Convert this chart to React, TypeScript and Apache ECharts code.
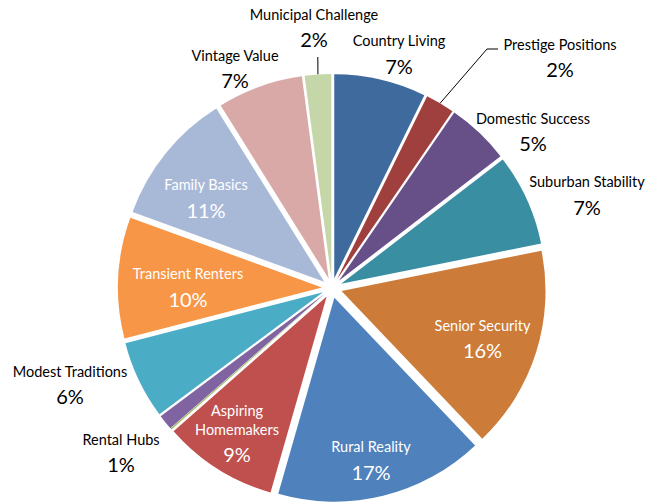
import { useEffect, useRef } from 'react';
import * as echarts from 'echarts';

// ---- data ----
const categories = [
  'Country Living',
  'Prestige Positions',
  'Domestic Success',
  'Suburban Stability',
  'Senior Security',
  'Rural Reality',
  'Aspiring Homemakers',
  '',
  'Rental Hubs',
  'Modest Traditions',
  'Transient Renters',
  'Family Basics',
  'Vintage Value',
  'Municipal Challenge',
];
const shares = [7.3, 2.3, 5.0, 7.3, 16.1, 16.6, 9.1, 0.1, 1.2, 6.2, 9.6, 10.6, 6.8, 2.1];

// ---- styles / placement ----
const colors = [
  '#3E6A9E', '#A0403E', '#674F88', '#3A8EA2', '#CC7B38', '#4F81BD', '#C0504D',
  '#9BBB59', '#8064A2', '#4BACC6', '#F79646', '#A8B9D8', '#D9A9A8', '#C5D6A8',
];
const insideLabels = [4, 5, 6, 10, 11];
const hiddenLabels = [7];
const wrapLabels = [6];
const CENTER = [332, 288];
const RADIUS = 204;
const EXPLODE = 10;
const TEXT_SHIFT_Y = -2.5;
// label block centres, relative to the pie centre
const labelOffsets: (number[] | null)[] = [
  [67, -232.5], [228, -229], [201, -155], [255, -91.5], [150.5, 52], [39, 173.5],
  [-95, 149], null, [-211, 166], [-262, 98], [-144, 0.5], [-126, -88.5], [-97, -218], [-18, -259],
];
// leader line bend points relative to the pie centre
const leaders: Record<number, number[][]> = {
  1: [[155, -239], [166, -239]],
  13: [[-14.2, -231]],
};
const FONT = 'Lato';
const NAME_SIZE = 14.5;
const PCT_SIZE = 20;

function midAngle(i: number) {
  const total = shares.reduce((a, b) => a + b, 0);
  let cum = 0;
  for (let k = 0; k < i; k++) cum += shares[k];
  return ((cum + shares[i] / 2) / total) * Math.PI * 2;
}

export default function App() {
  const ref = useRef<HTMLDivElement>(null);
  useEffect(() => {
    if (!ref.current) return;
    const chart = echarts.init(ref.current, null, { renderer: 'svg' });
    const common = {
      type: 'pie',
      center: CENTER,
      radius: RADIUS,
      startAngle: 90,
      clockwise: true,
      avoidLabelOverlap: false,
      percentPrecision: 0,
      emphasis: { disabled: true },
    };
    chart.setOption({
      animation: false,
      backgroundColor: '#ffffff',
      series: [
        {
          ...common,
          selectedMode: 'multiple',
          selectedOffset: EXPLODE,
          select: { itemStyle: { borderWidth: 0 } },
          itemStyle: { borderWidth: 0 },
          label: { show: false },
          labelLine: { show: false },
          data: categories.map((name, i) => ({
            name,
            value: shares[i],
            selected: true,
            itemStyle: { color: colors[i] },
          })),
        },
        {
          ...common,
          silent: true,
          itemStyle: { color: 'rgba(0,0,0,0)', borderWidth: 0 },
          label: {
            show: true,
            position: 'outside',
            width: 180,
            fontFamily: FONT,
            formatter: (p: any) => {
              const i = p.dataIndex;
              if (wrapLabels.includes(i)) {
                const parts = String(p.name).split(' ');
                return parts.map((s) => `{a|${s}}`).join('\n') + `\n{q|${p.percent}%}`;
              }
              return `{n|${p.name}}\n{p|${p.percent}%}`;
            },
            rich: {
              n: { fontFamily: FONT, fontSize: NAME_SIZE, lineHeight: 25, align: 'center' },
              p: { fontFamily: FONT, fontSize: PCT_SIZE, lineHeight: 25, align: 'center' },
              a: { fontFamily: FONT, fontSize: NAME_SIZE, lineHeight: 19, align: 'center' },
              q: { fontFamily: FONT, fontSize: PCT_SIZE, lineHeight: 29, align: 'center' },
            },
          },
          labelLine: { show: false, lineStyle: { color: '#000000', width: 1 } },
          labelLayout: (p: any) => {
            const i = p.dataIndex;
            const o = labelOffsets[i];
            if (!o) return {};
            const res: any = {
              x: CENTER[0] + o[0],
              y: CENTER[1] + o[1] + TEXT_SHIFT_Y,
              align: 'center',
              verticalAlign: 'middle',
            };
            const lead = leaders[i];
            if (lead) {
              const m = midAngle(i);
              const start = [
                CENTER[0] + (RADIUS + EXPLODE) * Math.sin(m),
                CENTER[1] - (RADIUS + EXPLODE) * Math.cos(m),
              ];
              res.labelLinePoints = [start, ...lead.map((b) => [CENTER[0] + b[0], CENTER[1] + b[1]])];
            }
            return res;
          },
          data: categories.map((name, i) => ({
            name,
            value: shares[i],
            label: {
              show: !hiddenLabels.includes(i),
              color: insideLabels.includes(i) ? '#ffffff' : '#000000',
            },
            labelLine: { show: !!leaders[i] },
          })),
        },
      ],
    });
    return () => chart.dispose();
  }, []);
  return (
    <div
      ref={ref}
      style={{ position: 'absolute', left: 0, top: 0, width: 647, height: 504 }}
    />
  );
}
